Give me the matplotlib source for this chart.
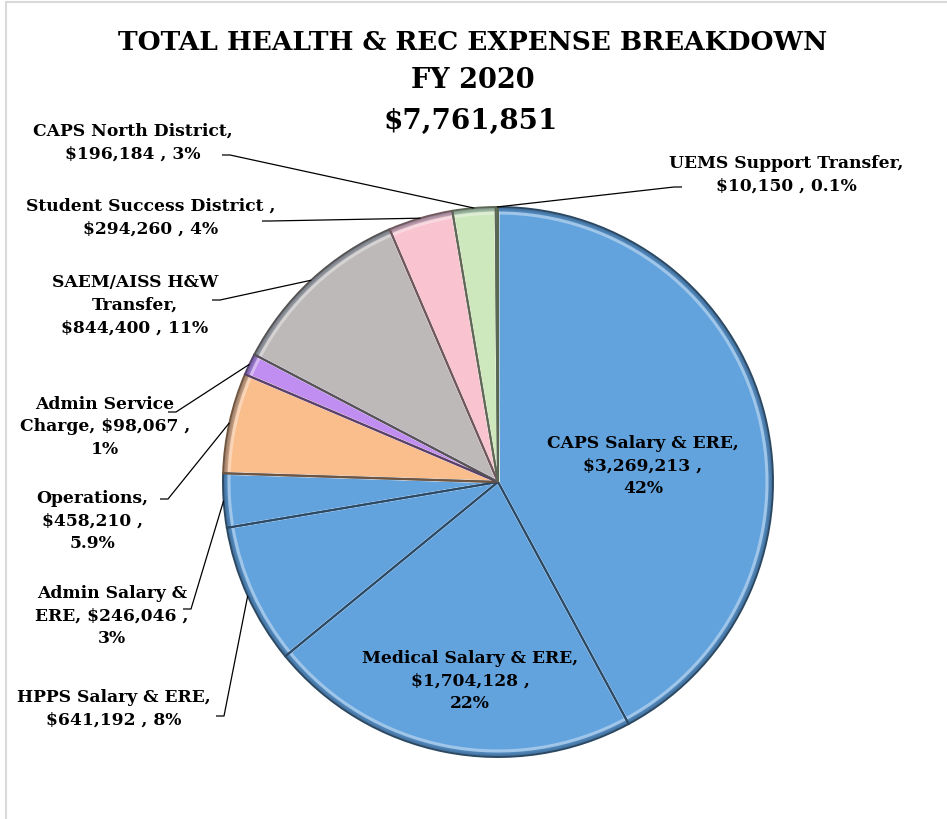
import numpy as np
import matplotlib
matplotlib.use("Agg")
import matplotlib.pyplot as plt
from matplotlib.colors import to_rgb

# Expense categories, clockwise from 12 o'clock
categories = [
    "CAPS Salary & ERE",
    "Medical Salary & ERE",
    "HPPS Salary & ERE",
    "Admin Salary & ERE",
    "Operations",
    "Admin Service Charge",
    "SAEM/AISS H&W Transfer",
    "Student Success District",
    "CAPS North District",
    "UEMS Support Transfer",
]
amounts = [3269213, 1704128, 641192, 246046, 458210, 98067, 844400, 294260, 196184, 10150]
pct_labels = ["42%", "22%", "8%", "3%", "5.9%", "1%", "11%", "4%", "3%", "0.1%"]
total_label = "$7,761,851"

colors = ["#62a3de", "#62a3de", "#62a3de", "#62a3de", "#fabd8c",
          "#bf8ef0", "#bdb9b9", "#f9c3cf", "#cde8bd", "#cde8bd"]

# label text (multi-line), anchor position in pixels (x, y from top)
label_text = [
    "CAPS Salary & ERE,\n$3,269,213 ,\n42%",
    "Medical Salary & ERE,\n$1,704,128 ,\n22%",
    "HPPS Salary & ERE,\n$641,192 , 8%",
    "Admin Salary &\nERE, $246,046 ,\n3%",
    "Operations,\n$458,210 ,\n5.9%",
    "Admin Service\nCharge, $98,067 ,\n1%",
    "SAEM/AISS H&W\nTransfer,\n$844,400 , 11%",
    "Student Success District ,\n$294,260 , 4%",
    "CAPS North District,\n$196,184 , 3%",
    "UEMS Support Transfer,\n$10,150 , 0.1%",
]
label_pos = [
    (643, 466), (470, 681), (114, 709), (112, 616), (92, 521),
    (105, 427), (135, 305), (151, 218), (133, 143), (786, 175),
]
# (elbow start x, elbow y) for external labels; None for labels inside the pie
leader_elbow = [
    None, None, (216, 717), (183, 610), (160, 500),
    (168, 413), (212, 301), (262, 222), (222, 156), (682, 188),
]

W, H = 947, 820
fig = plt.figure(figsize=(W / 100, H / 100), dpi=100)
ax = fig.add_axes([0, 0, 1, 1])
ax.set_xlim(0, W)
ax.set_ylim(0, H)
ax.set_aspect("equal")
ax.axis("off")

cx, cy_px, R = 498, 483, 275
cy = H - cy_px


def darker(c, f):
    r, g, b = to_rgb(c)
    return (r * f, g * f, b * f)


def lighter(c, f):
    r, g, b = to_rgb(c)
    return (r + (1 - r) * f, g + (1 - g) * f, b + (1 - b) * f)


pie_kw = dict(startangle=90, counterclock=False, center=(cx, cy), frame=True)

# base wedges
wedges, _ = ax.pie(amounts, colors=colors, radius=R,
                   wedgeprops=dict(edgecolor="none", linewidth=0), **pie_kw)

# soft shading toward the rim
for k, a in enumerate(np.linspace(0.05, 0.30, 6)):
    ax.add_patch(plt.Circle((cx, cy), R - 6 + k, fill=False,
                            edgecolor="#1f3550", linewidth=1.2, alpha=a))

# inner bevel highlight
inner, _ = ax.pie(amounts, radius=R - 6,
                  wedgeprops=dict(linewidth=2.2), **pie_kw)
for w, c in zip(inner, colors):
    w.set_facecolor("none")
    w.set_edgecolor(lighter(c, 0.5))
    w.set_alpha(0.8)

# dark seams between slices
seams, _ = ax.pie(amounts, radius=R, wedgeprops=dict(linewidth=1.4), **pie_kw)
for w, c in zip(seams, colors):
    w.set_facecolor("none")
    w.set_edgecolor(darker(c, 0.45))

ax.set_xlim(0, W)
ax.set_ylim(0, H)

font = dict(family="DejaVu Serif", weight="bold")

total = float(sum(amounts))
cum = np.cumsum([0] + amounts)
for i, (txt, (tx, ty)) in enumerate(zip(label_text, label_pos)):
    ax.text(tx, H - ty, txt, ha="center", va="center", fontsize=12.3,
            linespacing=1.45, color="black", **font)
    el = leader_elbow[i]
    if el is None:
        continue
    mid = (cum[i] + cum[i + 1]) / 2 / total
    ang = np.deg2rad(90 - 360 * mid)
    px, py = cx + R * np.cos(ang), cy + R * np.sin(ang)
    ex, ey = el[0], H - el[1]
    step = 8 if px > ex else -8
    ax.plot([ex, ex + step, px], [ey, ey, py], color="black", lw=0.9,
            solid_capstyle="butt")

ax.text(473, H - 42, "TOTAL HEALTH & REC EXPENSE BREAKDOWN", ha="center",
        va="center", fontsize=19, **font)
ax.text(473, H - 80, "FY 2020", ha="center", va="center", fontsize=19.5, **font)
ax.text(471, H - 121, total_label, ha="center", va="center", fontsize=20, **font)

# chart area frame (left and top edges)
ax.plot([6, 6], [0, H - 3], color="#d9d9d9", lw=1.5)
ax.plot([6, W], [H - 3, H - 3], color="#d9d9d9", lw=1.5)

fig.savefig("out.png", dpi=100, facecolor="white")
